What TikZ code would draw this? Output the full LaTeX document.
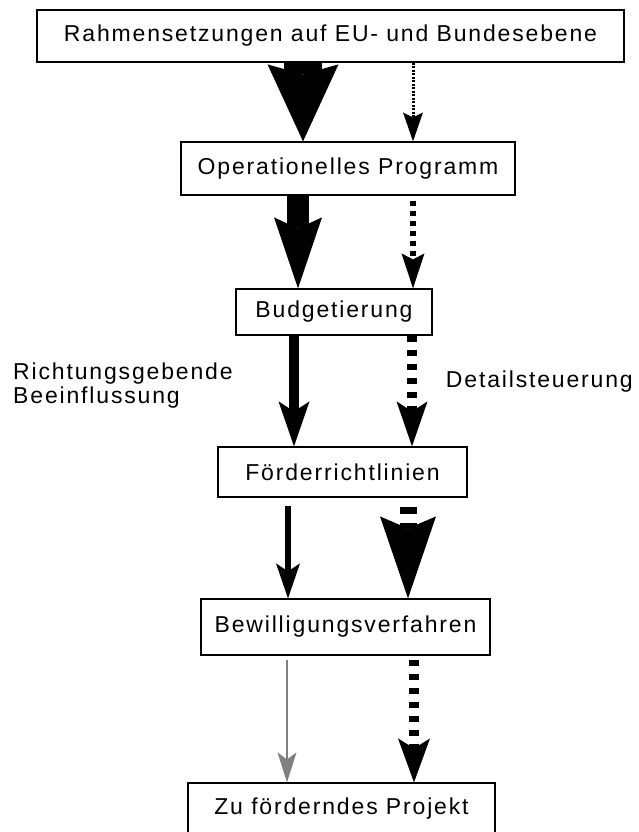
\documentclass[tikz,border=0pt]{standalone}
\usepackage{fontspec}
\setmainfont{Liberation Sans}[LetterSpace=8]
\usetikzlibrary{arrows.meta}
\begin{document}
\begin{tikzpicture}[x=1pt,y=-1pt,
  box/.style={draw=black,line width=1.2pt,fill=white,inner sep=0pt,font=\fontsize{23}{24}\selectfont},
  lbl/.style={inner sep=0pt,font=\fontsize{23}{24}\selectfont,align=left},
  tip/.style n args={3}{-{Stealth[length=#1pt,width=#2pt,inset=#3pt,line width=0pt]}},
  ]
\useasboundingbox (0,0) rectangle (638,832);
% boxes
\node[box,minimum width=587pt,minimum height=52pt] (b1) at (330.5,36) {Rahmensetzungen auf EU- und Bundesebene};
\node[box,minimum width=334pt,minimum height=53pt] (b2) at (348,168.5) {Operationelles Programm};
\node[box,minimum width=196pt,minimum height=46pt] (b3) at (334,312) {Budgetierung};
\node[box,minimum width=249pt,minimum height=50pt] (b4) at (342.5,472) {Förderrichtlinien};
\node[box,minimum width=289pt,minimum height=56pt] (b5) at (345.5,627) {Bewilligungsverfahren};
\node[box,minimum width=307pt,minimum height=52pt] (b6) at (341.5,809) {Zu förderndes Projekt};
% labels
\node[lbl,anchor=north west] (l1) at (13,363) {Richtungsgebende\\Beeinflussung};
\node[lbl,anchor=base east] (l2) at (633,387) {Detailsteuerung};
% columns
\coordinate (x1l) at (303,0);
\coordinate (x1r) at (413,0);
\coordinate (x2l) at (298,0);
\coordinate (x2r) at (413,0);
\coordinate (x3l) at (294,0);
\coordinate (x3r) at (412,0);
\coordinate (x4l) at (288,0);
\coordinate (x4r) at (408,0);
\coordinate (x5l) at (287,0);
\coordinate (x5r) at (414,0);
% arrows b1 -> b2
\draw[line width=38pt,tip={77}{71}{10}] (b1.south -| x1l) -- (b2.north -| x1l);
\draw[line width=3pt,dash pattern=on 2pt off 1.5pt,tip={29}{20}{5}] (b1.south -| x1r) -- (b2.north -| x1r);
% arrows b2 -> b3
\draw[line width=22pt,tip={71}{48}{11}] (b2.south -| x2l) -- (b3.north -| x2l);
\draw[line width=6pt,dash pattern=on 5pt off 5pt,dash phase=5pt,tip={35}{23}{6}] (b2.south -| x2r) -- (b3.north -| x2r);
% arrows b3 -> b4
\draw[line width=10pt,tip={45}{31}{10}] (b3.south -| x3l) -- (b4.north -| x3l);
\draw[line width=10pt,dash pattern=on 6pt off 8pt,tip={45}{31}{10}] (b3.south -| x3r) -- (b4.north -| x3r);
% arrows b4 -> b5
\draw[line width=6pt,shorten <=8pt,tip={35}{24}{8}] (b4.south -| x4l) -- (b5.north -| x4l);
\draw[line width=17pt,dash pattern=on 7pt off 9pt,dash phase=7pt,tip={82}{56}{12}] (b4.south -| x4r) -- (b5.north -| x4r);
% arrows b5 -> b6
\draw[line width=2pt,draw={rgb,255:red,128;green,128;blue,128},fill={rgb,255:red,128;green,128;blue,128},shorten <=4pt,tip={30}{19}{7}] (b5.south -| x5l) -- (b6.north -| x5l);
\draw[line width=10pt,dash pattern=on 6pt off 8pt,dash phase=10pt,tip={44}{32}{10}] (b5.south -| x5r) -- (b6.north -| x5r);
\end{tikzpicture}
\end{document}
